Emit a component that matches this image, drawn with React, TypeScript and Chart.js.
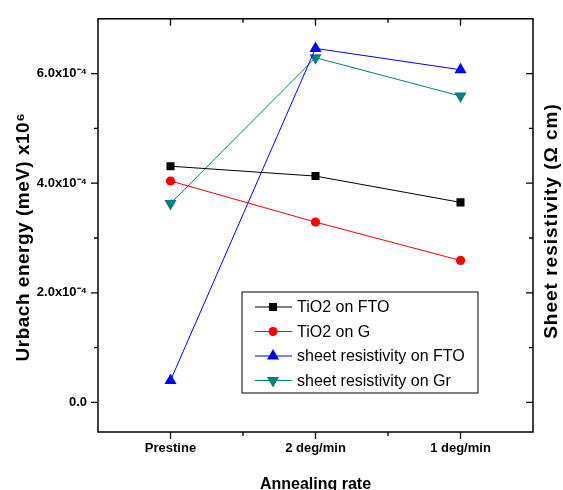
import React, { useEffect, useRef } from 'react';
import { Chart, registerables } from 'chart.js';

Chart.register(...registerables);

// ---- data ----
const categories = ['Prestine', '2 deg/min', '1 deg/min'];
const tio2OnFTO = [4.31e-4, 4.13e-4, 3.65e-4];
const tio2OnG = [4.04e-4, 3.29e-4, 2.59e-4];
const sheetResFTO = [0.4e-4, 6.46e-4, 6.07e-4];
const sheetResGr = [3.63e-4, 6.29e-4, 5.59e-4];
const seriesNames = ['TiO2 on FTO', 'TiO2 on G', 'sheet resistivity on FTO', 'sheet resistivity on Gr'];
const yMajorTicks = [0, 2e-4, 4e-4, 6e-4];
const yTickLabels = ['0.0', '2.0x10⁻⁴', '4.0x10⁻⁴', '6.0x10⁻⁴'];
const yMinorTicks = [1e-4, 3e-4, 5e-4];
const xMinorTicks = [0.5, 1.5];
const yMin = -0.54e-4;
const yMax = 7.0e-4;
const yTitle = 'Urbach energy (meV) x10⁶';
const y2Title = 'Sheet resistivity (Ω cm)';
const xTitle = 'Annealing rate';

const FONT = '"Liberation Sans", Arial, sans-serif';

const toPoints = (vals: number[]) => vals.map((v, i) => ({ x: i, y: v }));

function drawMarker(ctx: CanvasRenderingContext2D, style: string, x: number, y: number, color: string) {
  ctx.save();
  ctx.fillStyle = color;
  ctx.beginPath();
  if (style === 'rect') {
    ctx.rect(x - 4, y - 4, 8, 8);
  } else if (style === 'circle') {
    ctx.arc(x, y, 4.5, 0, Math.PI * 2);
  } else if (style === 'triangle') {
    ctx.moveTo(x, y - 7);
    ctx.lineTo(x + 6.06, y + 3.5);
    ctx.lineTo(x - 6.06, y + 3.5);
    ctx.closePath();
  } else {
    ctx.moveTo(x, y + 7);
    ctx.lineTo(x + 6.06, y - 3.5);
    ctx.lineTo(x - 6.06, y - 3.5);
    ctx.closePath();
  }
  ctx.fill();
  ctx.restore();
}

const framePlugin = {
  id: 'framePlugin',
  afterDraw(chart: any) {
    const { ctx, chartArea: a, scales } = chart;
    const xs = scales.x;
    const ys = scales.y;
    ctx.save();
    ctx.strokeStyle = '#000';
    ctx.lineWidth = 1.5;
    ctx.strokeRect(a.left, a.top, a.right - a.left, a.bottom - a.top);

    ctx.lineWidth = 1.3;
    ctx.beginPath();
    const xTick = (v: number, len: number) => {
      const px = xs.getPixelForValue(v);
      ctx.moveTo(px, a.bottom);
      ctx.lineTo(px, a.bottom + len);
      ctx.moveTo(px, a.top);
      ctx.lineTo(px, a.top + len);
    };
    const yTick = (v: number, len: number) => {
      const py = ys.getPixelForValue(v);
      ctx.moveTo(a.left, py);
      ctx.lineTo(a.left - len, py);
      ctx.moveTo(a.right, py);
      ctx.lineTo(a.right - len, py);
    };
    categories.forEach((_, i) => xTick(i, 7));
    xMinorTicks.forEach((v) => xTick(v, 4));
    yMajorTicks.forEach((v) => yTick(v, 7));
    yMinorTicks.forEach((v) => yTick(v, 4));
    ctx.stroke();

    // axis titles
    ctx.fillStyle = '#000';
    ctx.textAlign = 'center';
    ctx.textBaseline = 'middle';
    ctx.save();
    ctx.font = `bold 19px ${FONT}`;
    (ctx as any).letterSpacing = '0.5px';
    ctx.translate(24, 237);
    ctx.rotate(-Math.PI / 2);
    ctx.fillText(yTitle, 0, 0);
    ctx.restore();

    ctx.save();
    ctx.font = `bold 19px ${FONT}`;
    (ctx as any).letterSpacing = '1px';
    ctx.translate(552, 221);
    ctx.rotate(-Math.PI / 2);
    ctx.fillText(y2Title, 0, 0);
    ctx.restore();

    ctx.font = `bold 16px ${FONT}`;
    ctx.textBaseline = 'alphabetic';
    ctx.fillText(xTitle, (a.left + a.right) / 2, 489);

    // legend
    const lx = 242, ly = 292, lw = 236, lh = 101;
    ctx.lineWidth = 1;
    ctx.strokeStyle = '#000';
    ctx.strokeRect(lx, ly, lw, lh);
    ctx.font = `16px ${FONT}`;
    ctx.textAlign = 'left';
    ctx.textBaseline = 'middle';
    chart.data.datasets.forEach((ds: any, i: number) => {
      const ry = ly + 15 + i * 24.5;
      ctx.strokeStyle = ds.borderColor;
      ctx.lineWidth = 1;
      ctx.beginPath();
      ctx.moveTo(lx + 13, ry);
      ctx.lineTo(lx + 50, ry);
      ctx.stroke();
      drawMarker(ctx, ds.pointRotation === 180 ? 'down' : ds.pointStyle, lx + 31, ry, ds.borderColor);
      ctx.fillStyle = '#000';
      ctx.fillText(ds.label, lx + 55, ry + 1);
    });
    ctx.restore();
  },
};

export default function App() {
  const ref = useRef<HTMLCanvasElement | null>(null);
  useEffect(() => {
    if (!ref.current) return;
    const mk = (label: string, vals: number[], color: string, pointStyle: string, radius: number, rotation = 0) => ({
      label,
      data: toPoints(vals),
      borderColor: color,
      backgroundColor: color,
      borderWidth: 1,
      pointStyle,
      pointRadius: radius,
      pointHoverRadius: radius,
      pointRotation: rotation,
      pointBorderWidth: 0,
      tension: 0,
    });
    const chart = new Chart(ref.current, {
      type: 'line',
      data: {
        datasets: [
          mk(seriesNames[0], tio2OnFTO, '#000000', 'rect', 5.7),
          mk(seriesNames[1], tio2OnG, '#ff0000', 'circle', 4.6),
          mk(seriesNames[2], sheetResFTO, '#0000ff', 'triangle', 7),
          mk(seriesNames[3], sheetResGr, '#008080', 'triangle', 7, 180),
        ],
      },
      options: {
        animation: false,
        responsive: false,
        events: [],
        layout: { padding: { top: 13, right: 30, left: 0, bottom: 0 } },
        plugins: { legend: { display: false }, tooltip: { enabled: false } },
        scales: {
          x: {
            type: 'linear',
            min: -0.5,
            max: 2.5,
            grid: { display: false, drawTicks: false },
            border: { display: false },
            afterBuildTicks: (s: any) => {
              s.ticks = categories.map((_, i) => ({ value: i }));
            },
            afterFit: (s: any) => {
              s.height = 58;
            },
            ticks: {
              padding: 9,
              color: '#000',
              font: { family: FONT, size: 13, weight: 'bold' },
              callback: (v: any) => categories[Math.round(Number(v))] ?? '',
              maxRotation: 0,
            },
          },
          y: {
            type: 'linear',
            min: yMin,
            max: yMax,
            grid: { display: false, drawTicks: false },
            border: { display: false },
            afterBuildTicks: (s: any) => {
              s.ticks = yMajorTicks.map((v) => ({ value: v }));
            },
            afterFit: (s: any) => {
              s.width = 98;
            },
            ticks: {
              padding: 11,
              color: '#000',
              font: { family: FONT, size: 13, weight: 'bold' },
              callback: (v: any) => {
                const idx = yMajorTicks.findIndex((t) => Math.abs(t - Number(v)) < 1e-9);
                return idx >= 0 ? yTickLabels[idx] : '';
              },
            },
          },
        },
      },
      plugins: [framePlugin],
    } as any);
    return () => chart.destroy();
  }, []);
  return (
    <div style={{ position: 'fixed', left: 0, top: 0, width: 563, height: 490, background: '#fff' }}>
      <canvas ref={ref} width={563} height={490} style={{ width: 563, height: 490 }} />
    </div>
  );
}
